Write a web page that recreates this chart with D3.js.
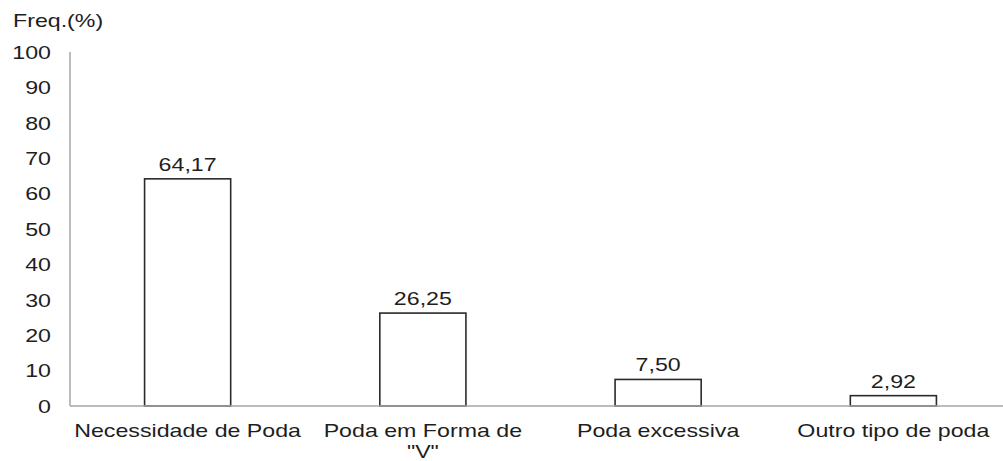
<!DOCTYPE html>
<html>
<head>
<meta charset="utf-8">
<script src="https://cdn.jsdelivr.net/npm/d3@7"></script>
<style>
  html, body { margin: 0; padding: 0; background: #fff; }
  svg { display: block; }
  text { font-family: "Liberation Sans", Arial, sans-serif; fill: #1e1e1e; }
</style>
</head>
<body>
<svg id="chart" width="1003" height="461"></svg>
<script>
// Data
const categories = [["Necessidade de Poda"], ["Poda em Forma de", "\"V\""], ["Poda excessiva"], ["Outro tipo de poda"]];
const values = [64.17, 26.25, 7.50, 2.92];
const yTicks = [0, 10, 20, 30, 40, 50, 60, 70, 80, 90, 100];
const yTitle = "Freq.(%)";

const W = 1003, H = 461;
const plot = { left: 70, right: 1011, top: 52, bottom: 406 };
const FONT = 19;
const SX = 1.22; // wide glyph stretch

const svg = d3.select("#chart");
const ptBR = d3.formatLocale({ decimal: ",", thousands: ".", grouping: [3], currency: ["R$", ""] });
const fmt = ptBR.format(".2f");

const keys = categories.map((c, i) => i);
const x = d3.scaleBand().domain(keys).range([plot.left, plot.right])
  .paddingInner(0.634).paddingOuter(0.317);
const y = d3.scaleLinear().domain([0, 100]).range([plot.bottom, plot.top]);

// Y axis line
svg.append("line")
  .attr("x1", plot.left).attr("x2", plot.left)
  .attr("y1", y(100)).attr("y2", y(0))
  .attr("stroke", "#a6a6a6").attr("stroke-width", 1.5);

// Y tick labels
svg.append("g").selectAll("text").data(yTicks).join("text")
  .attr("class", "stretch")
  .attr("x", 51).attr("y", d => y(d)).attr("dy", "0.36em")
  .attr("text-anchor", "end").attr("font-size", FONT)
  .text(d => d);

// Axis title
svg.append("text").attr("class", "stretch")
  .attr("x", 13).attr("y", 27).attr("font-size", FONT)
  .text(yTitle);

// Bars
svg.append("g").selectAll("rect").data(values).join("rect")
  .attr("x", (d, i) => x(i)).attr("width", x.bandwidth())
  .attr("y", d => y(d)).attr("height", d => y(0) - y(d))
  .attr("fill", "#fff").attr("stroke", "#2a2a2a").attr("stroke-width", 1.6);

// X axis line
svg.append("line")
  .attr("x1", plot.left).attr("x2", W)
  .attr("y1", y(0)).attr("y2", y(0))
  .attr("stroke", "#a6a6a6").attr("stroke-width", 1.5);

// Value labels
svg.append("g").selectAll("text").data(values).join("text")
  .attr("class", "stretch")
  .attr("x", (d, i) => x(i) + x.bandwidth() / 2).attr("y", d => y(d) - 8)
  .attr("text-anchor", "middle").attr("font-size", FONT)
  .text(d => fmt(d));

// Category labels (one text per line)
const catG = svg.append("g");
categories.forEach((lines, i) => {
  lines.forEach((ln, j) => {
    catG.append("text").attr("class", "stretch")
      .attr("x", x(i) + x.bandwidth() / 2).attr("y", 437 + j * 21)
      .attr("text-anchor", "middle").attr("font-size", FONT)
      .text(ln);
  });
});

// Widen glyphs horizontally
svg.selectAll("text.stretch").each(function () {
  const len = this.getComputedTextLength();
  d3.select(this).attr("textLength", len * SX).attr("lengthAdjust", "spacingAndGlyphs");
});
</script>
</body>
</html>
